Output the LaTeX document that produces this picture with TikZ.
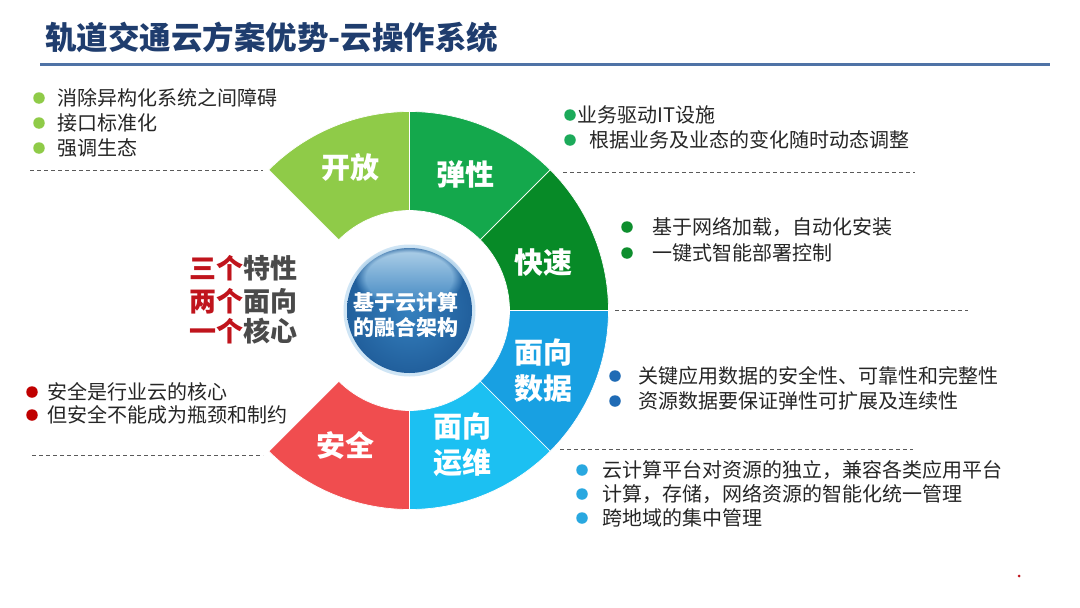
\documentclass[tikz,border=0pt]{standalone}
\usepackage{fontspec}
\setmainfont{Noto Sans CJK SC}
\usetikzlibrary{calc,fadings}
\definecolor{titleblue}{HTML}{1F3D6E}
\definecolor{barblue}{HTML}{4F73A6}
\definecolor{bodytext}{HTML}{262626}
\definecolor{dashgray}{HTML}{5A5A5A}
\definecolor{cOpen}{HTML}{8FCB48}
\definecolor{cElastic}{HTML}{14A84C}
\definecolor{cFast}{HTML}{078A27}
\definecolor{cData}{HTML}{18A0E2}
\definecolor{cOps}{HTML}{1CC0F2}
\definecolor{cSafe}{HTML}{F04D4F}
\definecolor{bElastic}{HTML}{1CAA5A}
\definecolor{bFast}{HTML}{0E8E2E}
\definecolor{bData}{HTML}{1F6BB5}
\definecolor{bOps}{HTML}{29A8E0}
\definecolor{bSafe}{HTML}{C00000}
\definecolor{darkred}{HTML}{C0141C}
\definecolor{midgray}{HTML}{4A4A4A}
\definecolor{ballbase}{HTML}{2B71AF}
\definecolor{ballin}{HTML}{3580BE}
\definecolor{ballout}{HTML}{215F9C}
\definecolor{ballhi}{HTML}{B4D3EA}
\definecolor{halo}{HTML}{CFE5F5}
\newcommand{\ringseg}[3]{%
  \fill[#1, draw=white, line width=0.7pt] ($(C)+(#2:199)$) arc[start angle=#2, end angle=#3, radius=199pt]
    -- ($(C)+(#3:100)$) arc[start angle=#3, end angle=#2, radius=100pt] -- cycle;}
\begin{document}
\begin{tikzpicture}[x=1pt,y=1pt,
  body/.style={anchor=west, inner sep=0pt, font=\fontsize{20}{24}\selectfont, text=bodytext},
  bul/.style={circle, inner sep=0pt, minimum size=11.5pt},
  seglabel/.style={font=\fontsize{29}{36}\bfseries\selectfont, text=white, align=center, inner sep=0pt},
  dashline/.style={draw=dashgray, dash pattern=on 4pt off 3pt, line width=0.9pt},
  motto/.style={anchor=east, inner sep=0pt, font=\fontsize{27}{32}\bfseries\selectfont, text=midgray}]
\useasboundingbox (0,0) rectangle (1080,-608);
\fill[white] (0,0) rectangle (1080,-608);

% title
\node[anchor=west, inner sep=0pt, font=\fontsize{31.5}{36}\bfseries\selectfont, text=titleblue] (title) at (45,-37) {轨道交通云方案优势-云操作系统};
\fill[barblue] (40,-62.5) rectangle (1050,-66);

% ring
\coordinate (C) at (409.5,-310.5);
\ringseg{cOpen}{90}{135}
\ringseg{cElastic}{45}{90}
\ringseg{cFast}{0}{45}
\ringseg{cData}{-45}{0}
\ringseg{cOps}{-90}{-45}
\ringseg{cSafe}{-135}{-90}

\node[seglabel] (lOpen) at (350,-167) {开放};
\node[seglabel] (lElastic) at (465,-174) {弹性};
\node[seglabel] (lFast) at (543,-263) {快速};
\node[seglabel] (lData) at (543,-371) {面向\\数据};
\node[seglabel] (lOps) at (462,-445) {面向\\运维};
\node[seglabel] (lSafe) at (345,-445) {安全};

% center ball
\fill[halo] (C) circle[radius=66];
\shade[inner color=ballin, outer color=ballout] (C) circle[radius=62.5];
\shade[top color=ballhi, bottom color=ballin, path fading=circle with fuzzy edge 20 percent] (409,-278) ellipse[x radius=54, y radius=32];
\node[font=\fontsize{21}{25}\bfseries\selectfont, text=white, align=center, inner sep=0pt] (core) at (406,-314.5) {基于云计算\\的融合架构};

% left motto
\node[motto] (m1) at (298,-268) {\textcolor{darkred}{三个}特性};
\node[motto] (m2) at (298,-301) {\textcolor{darkred}{两个}面向};
\node[motto] (m3) at (298,-331) {\textcolor{darkred}{一个}核心};

% top-left block
\node[bul, fill=cOpen] (b11) at (39,-98) {};
\node[bul, fill=cOpen] (b12) at (39,-123) {};
\node[bul, fill=cOpen] (b13) at (39,-148) {};
\node[body] (t11) at (57,-98) {消除异构化系统之间障碍};
\node[body] (t12) at (57,-123) {接口标准化};
\node[body] (t13) at (57,-148) {强调生态};
\draw[dashline] (30,-170) -- (263,-170);

% top-right block
\node[bul, fill=bElastic] (b21) at (570,-115) {};
\node[bul, fill=bElastic] (b22) at (570,-140) {};
\node[body] (t21) at (577,-115) {业务驱动IT设施};
\node[body] (t22) at (589,-140) {根据业务及业态的变化随时动态调整};
\draw[dashline] (563,-172) -- (915,-172);

% fast block
\node[bul, fill=bFast] (b31) at (627,-227) {};
\node[bul, fill=bFast] (b32) at (627,-253) {};
\node[body] (t31) at (652,-227) {基于网络加载，自动化安装};
\node[body] (t32) at (652,-253) {一键式智能部署控制};
\draw[dashline] (615,-310) -- (968,-310);

% data block
\node[bul, fill=bData] (b41) at (615,-376) {};
\node[bul, fill=bData] (b42) at (615,-401) {};
\node[body] (t41) at (638,-376) {关键应用数据的安全性、可靠性和完整性};
\node[body] (t42) at (638,-401) {资源数据要保证弹性可扩展及连续性};
\draw[dashline] (560,-449) -- (913,-449);

% ops block
\node[bul, fill=bOps] (b51) at (582,-470) {};
\node[bul, fill=bOps] (b52) at (582,-494) {};
\node[bul, fill=bOps] (b53) at (582,-518) {};
\node[body] (t51) at (602,-470) {云计算平台对资源的独立，兼容各类应用平台};
\node[body] (t52) at (602,-494) {计算，存储，网络资源的智能化统一管理};
\node[body] (t53) at (602,-518) {跨地域的集中管理};

% safety block
\node[bul, fill=bSafe] (b61) at (32,-392) {};
\node[bul, fill=bSafe] (b62) at (32,-415) {};
\node[body] (t61) at (47,-392) {安全是行业云的核心};
\node[body] (t62) at (47,-415) {但安全不能成为瓶颈和制约};
\draw[dashline] (32,-455) -- (263,-455);

% tiny dot
\fill[darkred] (1019,-576) circle[radius=1.5];
\end{tikzpicture}
\end{document}
